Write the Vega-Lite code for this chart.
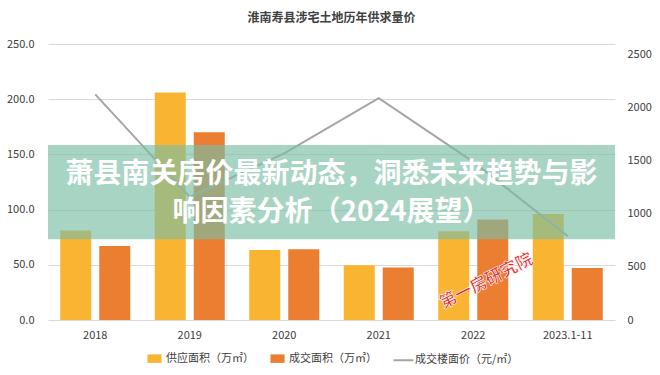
{
  "$schema": "https://vega.github.io/schema/vega-lite/v6.json",
  "width": 567,
  "height": 276,
  "autosize": {"type": "none"},
  "padding": {"left": 48, "top": 44, "right": 45, "bottom": 55},
  "background": "white",
  "config": {
    "font": "Noto Sans CJK SC",
    "view": {"stroke": null},
    "axis": {"labelFontSize": 11, "labelColor": "#404040", "domain": false, "ticks": false, "gridColor": "#d9d9d9", "title": null}
  },
  "title": {"text": "淮南寿县涉宅土地历年供求量价", "fontSize": 12, "fontWeight": "bold", "color": "#404040", "offset": 13, "anchor": "middle"},
  "datasets": {
    "main": [
      {"year": "2018", "series": "供应面积（万㎡）", "value": 81},
      {"year": "2018", "series": "成交面积（万㎡）", "value": 67},
      {"year": "2018", "series": "成交楼面价（元/㎡）", "value": 2125},
      {"year": "2019", "series": "供应面积（万㎡）", "value": 206},
      {"year": "2019", "series": "成交面积（万㎡）", "value": 170},
      {"year": "2019", "series": "成交楼面价（元/㎡）", "value": 1160},
      {"year": "2020", "series": "供应面积（万㎡）", "value": 63.5},
      {"year": "2020", "series": "成交面积（万㎡）", "value": 64},
      {"year": "2020", "series": "成交楼面价（元/㎡）", "value": 1570},
      {"year": "2021", "series": "供应面积（万㎡）", "value": 49.5},
      {"year": "2021", "series": "成交面积（万㎡）", "value": 47.5},
      {"year": "2021", "series": "成交楼面价（元/㎡）", "value": 2090},
      {"year": "2022", "series": "供应面积（万㎡）", "value": 80.5},
      {"year": "2022", "series": "成交面积（万㎡）", "value": 91},
      {"year": "2022", "series": "成交楼面价（元/㎡）", "value": 1490},
      {"year": "2023.1-11", "series": "供应面积（万㎡）", "value": 96},
      {"year": "2023.1-11", "series": "成交面积（万㎡）", "value": 47},
      {"year": "2023.1-11", "series": "成交楼面价（元/㎡）", "value": 790}
    ],
    "banner": [{"top": 1649, "bottom": 761}],
    "bannerText": [
      {"t": "萧县南关房价最新动态，洞悉未来趋势与影", "y": 1362},
      {"t": "响因素分析（2024展望）", "y": 1012}
    ],
    "stamp": [{"year": "2022", "t": "第一房研究院", "y": 300}]
  },
  "layer": [
    {
      "data": {"name": "main"},
      "transform": [{"filter": "datum.series != '成交楼面价（元/㎡）'"}],
      "mark": {"type": "bar"},
      "encoding": {
        "x": {"field": "year", "type": "nominal", "sort": null, "scale": {"paddingInner": 0, "paddingOuter": 0}, "axis": {"labelAngle": 0, "labelPadding": 9, "grid": false}},
        "xOffset": {"field": "series", "type": "nominal", "scale": {"domain": ["供应面积（万㎡）", "成交面积（万㎡）"], "paddingInner": 0.205, "paddingOuter": 0.314}},
        "y": {"field": "value", "type": "quantitative", "scale": {"domain": [0, 250]}, "axis": {"values": [0, 50, 100, 150, 200, 250], "format": ".1f", "labelPadding": 14, "grid": true}},
        "color": {
          "field": "series", "type": "nominal",
          "scale": {"domain": ["供应面积（万㎡）", "成交面积（万㎡）", "成交楼面价（元/㎡）"], "range": ["#f9b531", "#ec7e32", "#a5a5a5"]},
          "legend": {
            "orient": "none", "legendX": 98, "legendY": 306, "direction": "horizontal", "title": null,
            "labelFontSize": 11, "labelColor": "#404040", "labelOffset": 3, "columnPadding": 12,
            "encode": {
              "symbols": {
                "update": {
                  "shape": {"signal": "datum.value == '成交楼面价（元/㎡）' ? 'M-1,0H1' : 'M-1,-0.6H1V0.6H-1Z'"},
                  "size": {"signal": "datum.value == '成交楼面价（元/㎡）' ? 400 : 200"},
                  "fill": {"signal": "datum.value == '成交楼面价（元/㎡）' ? 'transparent' : (datum.value == '供应面积（万㎡）' ? '#f9b531' : '#ec7e32')"},
                  "stroke": {"signal": "datum.value == '成交楼面价（元/㎡）' ? '#a5a5a5' : 'transparent'"},
                  "strokeWidth": {"value": 2},
                  "opacity": {"value": 1}
                }
              }
            }
          }
        }
      }
    },
    {
      "layer": [
        {
          "data": {"name": "main"},
          "transform": [{"filter": "datum.series == '成交楼面价（元/㎡）'"}],
          "mark": {"type": "line", "strokeWidth": 2, "color": "#a5a5a5"},
          "encoding": {
            "x": {"field": "year", "type": "nominal", "sort": null},
            "y": {"field": "value", "type": "quantitative", "scale": {"domain": [0, 2500]}, "axis": {"orient": "right", "values": [0, 500, 1000, 1500, 2000, 2500], "format": "d", "labelPadding": 12, "grid": false}}
          }
        },
        {
          "data": {"name": "banner"},
          "mark": {"type": "rect", "color": "#79bda5", "opacity": 0.65},
          "encoding": {
            "y": {"field": "top", "type": "quantitative"},
            "y2": {"field": "bottom"}
          }
        },
        {
          "data": {"name": "bannerText"},
          "mark": {"type": "text", "color": "white", "fontSize": 28, "fontWeight": "bold", "baseline": "middle", "align": "center"},
          "encoding": {
            "y": {"field": "y", "type": "quantitative"},
            "text": {"field": "t"}
          }
        },
        {
          "data": {"name": "stamp"},
          "mark": {"type": "text", "color": "#e3262b", "fontSize": 17, "fontWeight": "bold", "angle": -27, "dx": 15, "stroke": "white", "strokeWidth": 0.6, "baseline": "middle", "align": "center"},
          "encoding": {
            "x": {"field": "year", "type": "nominal", "sort": null},
            "y": {"field": "y", "type": "quantitative"},
            "text": {"field": "t"}
          }
        }
      ]
    }
  ],
  "resolve": {"scale": {"y": "independent"}}
}
